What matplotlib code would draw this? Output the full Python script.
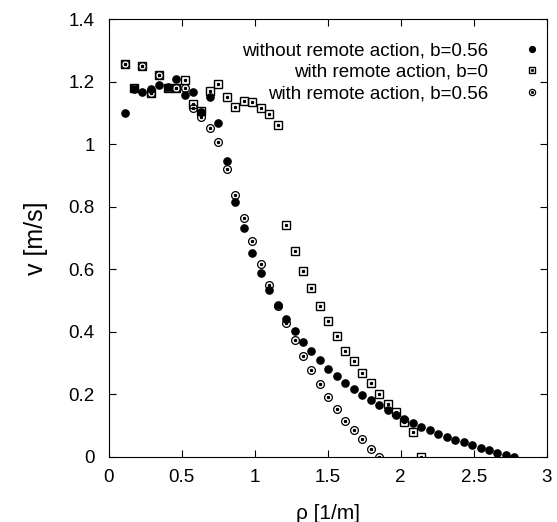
import matplotlib
matplotlib.use("Agg")
import matplotlib.pyplot as plt
from matplotlib.legend_handler import HandlerTuple

plt.rcParams["font.family"] = ["Liberation Sans", "DejaVu Sans"]

# density grid (1/m) shared by all three series
rho = [0.115, 0.173, 0.231, 0.289, 0.347, 0.405, 0.462, 0.520, 0.578, 0.636,
       0.694, 0.752, 0.810, 0.868, 0.926, 0.984, 1.041, 1.099, 1.157, 1.215,
       1.273, 1.331, 1.389, 1.447, 1.505, 1.563, 1.620, 1.678, 1.736, 1.794,
       1.852, 1.910, 1.968, 2.026, 2.084, 2.141, 2.199, 2.257, 2.315, 2.373,
       2.431, 2.489, 2.547, 2.605, 2.663, 2.720, 2.778]

v_no_remote = [1.100, 1.175, 1.166, 1.175, 1.188, 1.182, 1.209, 1.158, 1.168, 1.102,
               1.152, 1.067, 0.946, 0.815, 0.732, 0.652, 0.589, 0.533, 0.484, 0.441,
               0.403, 0.368, 0.338, 0.309, 0.282, 0.259, 0.236, 0.216, 0.198, 0.180,
               0.164, 0.149, 0.134, 0.121, 0.109, 0.096, 0.085, 0.073, 0.064, 0.054,
               0.046, 0.037, 0.029, 0.020, 0.013, 0.006, 0.0]

v_remote_b0 = [1.257, 1.178, 1.249, 1.163, 1.222, 1.180, 1.180, 1.206, 1.129, 1.107,
               1.169, 1.193, 1.151, 1.120, 1.138, 1.136, 1.115, 1.096, 1.062, 0.740,
               0.657, 0.593, 0.540, 0.483, 0.435, 0.386, 0.338, 0.306, 0.267, 0.235,
               0.201, 0.169, 0.142, 0.110, 0.080, 0.0]

v_remote_b056 = [1.257, 1.178, 1.249, 1.163, 1.222, 1.180, 1.180, 1.180, 1.116, 1.086,
                 1.052, 1.006, 0.920, 0.837, 0.765, 0.689, 0.615, 0.549, 0.482, 0.429,
                 0.372, 0.322, 0.277, 0.232, 0.192, 0.153, 0.115, 0.085, 0.056, 0.026,
                 0.0]

labels = ["without remote action, b=0.56",
          "with remote action, b=0",
          "with remote action, b=0.56"]

xticks = [0, 0.5, 1, 1.5, 2, 2.5, 3]
xticklabels = ["0", "0.5", "1", "1.5", "2", "2.5", "3"]
yticks = [0, 0.2, 0.4, 0.6, 0.8, 1.0, 1.2, 1.4]
yticklabels = ["0", "0.2", "0.4", "0.6", "0.8", "1", "1.2", "1.4"]

fig = plt.figure(figsize=(5.57, 5.22), dpi=100)
ax = fig.add_axes([0.195, 0.125, 0.7865, 0.8386])

h1, = ax.plot(rho[:len(v_no_remote)], v_no_remote, "o", color="black",
              markersize=5.2, linestyle="none")
h2, = ax.plot(rho[:len(v_remote_b0)], v_remote_b0, "s", mfc="none", mec="black",
              mew=1.0, markersize=5.6, linestyle="none")
d2, = ax.plot(rho[:len(v_remote_b0)], v_remote_b0, "s", color="black",
              markersize=1.3, linestyle="none")
h3, = ax.plot(rho[:len(v_remote_b056)], v_remote_b056, "o", mfc="none", mec="black",
              mew=0.9, markersize=5.6, linestyle="none")
d3, = ax.plot(rho[:len(v_remote_b056)], v_remote_b056, "s", color="black",
              markersize=1.3, linestyle="none")

ax.set_xlim(0, 3)
ax.set_ylim(0, 1.4)
ax.set_xticks(xticks)
ax.set_xticklabels(xticklabels)
ax.set_yticks(yticks)
ax.set_yticklabels(yticklabels)
ax.tick_params(direction="in", top=True, right=True, length=5, width=0.8,
               labelsize=13.5)
ax.tick_params(axis="x", pad=9)
ax.tick_params(axis="y", pad=10)
for s in ax.spines.values():
    s.set_linewidth(0.8)

ax.set_xlabel("ρ [1/m]", fontsize=15, labelpad=13)
ax.set_ylabel("v [m/s]", fontsize=18, labelpad=15)

ax.legend([h1, (h2, d2), (h3, d3)], labels,
          handler_map={tuple: HandlerTuple(ndivide=1)},
          loc="upper right", bbox_to_anchor=(0.987, 0.947), frameon=False,
          markerfirst=False, fontsize=13.5, markerscale=0.8, handlelength=1.0,
          handletextpad=1.8, labelspacing=0.24, borderpad=0, borderaxespad=0)

fig.savefig("out.png", dpi=100)
